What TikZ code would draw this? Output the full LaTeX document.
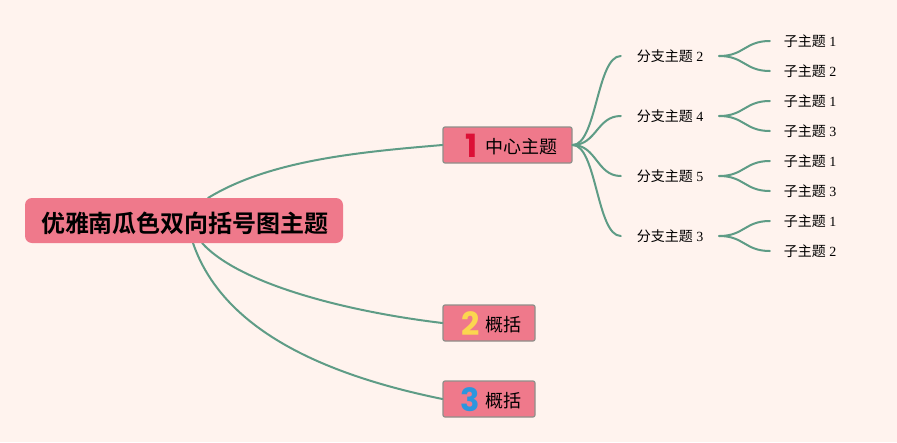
\documentclass[tikz,border=0pt]{standalone}
\usepackage{fontspec}
\setmainfont{Liberation Serif}
\newfontfamily\cjkserif{Noto Sans CJK SC}
\newfontfamily\cjkbold{Noto Sans CJK SC Bold}
\newfontfamily\numfont{Poppins Bold}
\XeTeXlinebreaklocale "zh"
\definecolor{bgc}{HTML}{FFF3EE}
\definecolor{boxc}{HTML}{EF798B}
\definecolor{linec}{HTML}{5E9C86}
\definecolor{edgec}{HTML}{8F8F8A}
\definecolor{onec}{HTML}{DC1036}
\definecolor{twoc}{HTML}{FBD64F}
\definecolor{threec}{HTML}{2C96DE}
\newcommand{\zh}[1]{{\cjkserif #1}}
\tikzset{
  x=1pt,y=-1pt,
  rootbox/.style={fill=boxc,rounded corners=7pt,minimum width=318pt,minimum height=45pt,inner sep=0pt},
  roottext/.style={inner sep=0pt,font=\cjkbold\fontsize{24}{24}\selectfont},
  mainbox/.style={fill=boxc,draw=edgec,line width=1.2pt,rounded corners=2pt,minimum height=36pt,inner sep=0pt},
  numtext/.style={inner sep=0pt,font=\numfont\fontsize{32}{32}\selectfont},
  maintext/.style={inner sep=0pt,font=\cjkserif\fontsize{18}{18}\selectfont},
  branchtext/.style={inner sep=0pt,minimum width=98pt,minimum height=20pt,font=\fontsize{14}{14}\selectfont},
  leaftext/.style={inner sep=0pt,minimum width=80pt,minimum height=20pt,font=\fontsize{14}{14}\selectfont},
  link/.style={draw=linec,line width=2pt,line cap=round},
}
\begin{document}
\begin{tikzpicture}
\useasboundingbox[fill=bgc] (0,0) rectangle (897,442);
\coordinate (r1) at (208,198);
\coordinate (r2) at (202,243);
\coordinate (r3) at (193,243);
\node[mainbox,minimum width=129pt] (m1) at (507.5,145) {};
\node[mainbox,minimum width=92pt] (m2) at (489,323) {};
\node[mainbox,minimum width=92pt] (m3) at (489,399) {};
\draw[link] (r1) .. controls (270,160) and (360,152) .. (m1.west);
\draw[link] (r2) .. controls (240,285) and (350,312) .. (m2.west);
\draw[link] (r3) .. controls (222,328) and (320,374) .. (m3.west);
\node[rootbox] (root) at (184,220.5) {};
\node[roottext] (title) at (185,223.5) {优雅南瓜色双向括号图主题};
\node[numtext,text=onec] (n1) at (471.5,146) {1};
\node[maintext,anchor=west] (t1) at (485.5,146.5) {中心主题};
\node[numtext,text=twoc] (n2) at (470.5,324) {2};
\node[maintext,anchor=west] (t2) at (485.5,324.5) {概括};
\node[numtext,text=threec] (n3) at (470.5,400) {3};
\node[maintext,anchor=west] (t3) at (485.5,400.5) {概括};
\node[branchtext] (b1) at (670,56) {\zh{分支主题} 2};
\node[branchtext] (b2) at (670,116) {\zh{分支主题} 4};
\node[branchtext] (b3) at (670,176) {\zh{分支主题} 5};
\node[branchtext] (b4) at (670,236) {\zh{分支主题} 3};
\node[leaftext] (l1) at (810,41) {\zh{子主题} 1};
\node[leaftext] (l2) at (810,71) {\zh{子主题} 2};
\node[leaftext] (l3) at (810,101) {\zh{子主题} 1};
\node[leaftext] (l4) at (810,131) {\zh{子主题} 3};
\node[leaftext] (l5) at (810,161) {\zh{子主题} 1};
\node[leaftext] (l6) at (810,191) {\zh{子主题} 3};
\node[leaftext] (l7) at (810,221) {\zh{子主题} 1};
\node[leaftext] (l8) at (810,251) {\zh{子主题} 2};
\foreach \b in {b1,b2,b3,b4}{
  \draw[link] (m1.east) .. controls +(24,0) and +(-24,0) .. (\b.west);
}
\foreach \b/\l in {b1/l1,b1/l2,b2/l3,b2/l4,b3/l5,b3/l6,b4/l7,b4/l8}{
  \draw[link] (\b.east) .. controls +(25,0) and +(-25,0) .. (\l.west);
}
\end{tikzpicture}
\end{document}
